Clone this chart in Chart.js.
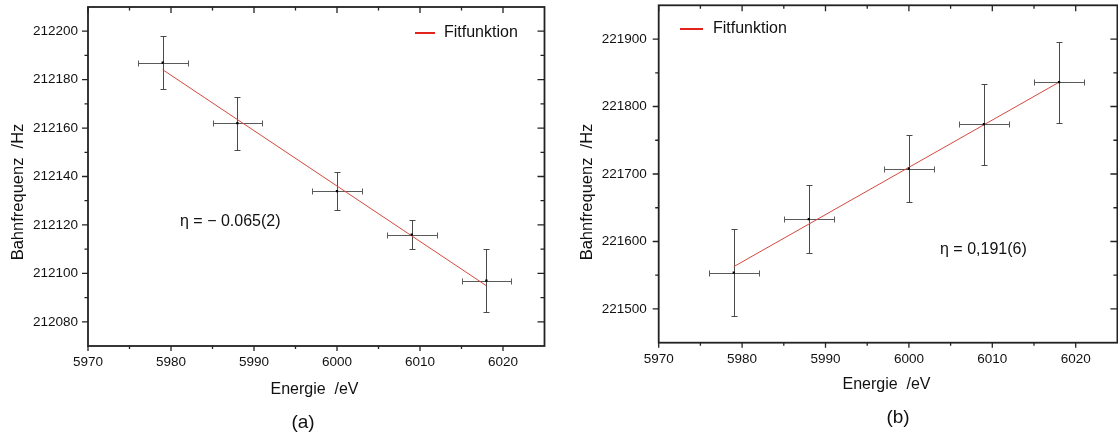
<!DOCTYPE html>
<html><head><meta charset="utf-8">
<script src="https://cdn.jsdelivr.net/npm/chart.js@4/dist/chart.umd.min.js"></script>
<style>
html,body{margin:0;padding:0;background:#fff;}
#wrap{position:relative;width:1118px;height:435px;overflow:hidden;background:#fff;}
.c{position:absolute;top:-30px;width:590px;height:465px;}
</style></head><body>
<div id="wrap">
<div class="c" style="left:0px"><canvas id="ca"></canvas></div>
<div class="c" style="left:560px"><canvas id="cb"></canvas></div>
</div>
<script>
// ---- data ----
const xTicks = [5970, 5980, 5990, 6000, 6010, 6020];
const xMinorTicks = [5975, 5985, 5995, 6005, 6015];

const energyA = [5979, 5988, 6000, 6009, 6018];
const freqA = [212187, 212162, 212134, 212116, 212097];
const freqErrA = [11, 11, 8, 6, 13];
const energyErrA = [3, 3, 3, 3, 3];
const fitEnergyA = [5979, 6018];
const fitFreqA = [212184.1, 212094.9];
const yTicksA = [212080, 212100, 212120, 212140, 212160, 212180, 212200];
const yMinorTicksA = [212090, 212110, 212130, 212150, 212170, 212190];

const energyB = [5979, 5988, 6000, 6009, 6018];
const freqB = [221554, 221633, 221708, 221774, 221836];
const freqErrB = [65, 50, 50, 60, 60];
const energyErrB = [3, 3, 3, 3, 3];
const fitEnergyB = [5979, 6018];
const fitFreqB = [221562.7, 221836];
const yTicksB = [221500, 221600, 221700, 221800, 221900];
const yMinorTicksB = [221550, 221650, 221750, 221850];

const FONT = "Arial, 'Liberation Sans', Helvetica, sans-serif";
const TXT = '#111';

function makeChart(id, o) {
  const ox = o.origin[0], oy = o.origin[1];
  const decor = {
    id: 'decor',
    beforeDatasetsDraw(chart) {
      const ctx = chart.ctx, xs = chart.scales.x, ys = chart.scales.y;
      ctx.save();
      ctx.lineWidth = 1;
      for (let i = 0; i < o.x.length; i++) {
        const px = Math.round(xs.getPixelForValue(o.x[i])) + 0.5;
        const py = Math.round(ys.getPixelForValue(o.y[i])) + 0.5;
        const y1 = Math.round(ys.getPixelForValue(o.y[i] + o.yErr[i])) + 0.5;
        const y2 = Math.round(ys.getPixelForValue(o.y[i] - o.yErr[i])) + 0.5;
        const x1 = Math.round(xs.getPixelForValue(o.x[i] - o.xErr[i])) + 0.5;
        const x2 = Math.round(xs.getPixelForValue(o.x[i] + o.xErr[i])) + 0.5;
        ctx.strokeStyle = '#4a4a4a';
        ctx.beginPath();
        ctx.moveTo(px, y1); ctx.lineTo(px, y2);
        ctx.moveTo(px - 3, y1); ctx.lineTo(px + 3, y1);
        ctx.moveTo(px - 3, y2); ctx.lineTo(px + 3, y2);
        ctx.stroke();
        ctx.strokeStyle = '#5a5a5a';
        ctx.beginPath();
        ctx.moveTo(x1, py); ctx.lineTo(x2, py);
        ctx.moveTo(x1, py - 3); ctx.lineTo(x1, py + 3);
        ctx.moveTo(x2, py - 3); ctx.lineTo(x2, py + 3);
        ctx.stroke();
      }
      ctx.restore();
    },
    afterDraw(chart) {
      const ctx = chart.ctx, xs = chart.scales.x, ys = chart.scales.y;
      const a = chart.chartArea;
      ctx.save();
      ctx.strokeStyle = '#222';
      ctx.lineWidth = 1.8;
      ctx.strokeRect(a.left, a.top, a.right - a.left, a.bottom - a.top);
      ctx.lineWidth = 1.3;
      ctx.beginPath();
      xTicks.forEach(v => {
        const p = xs.getPixelForValue(v);
        ctx.moveTo(p, a.bottom); ctx.lineTo(p, a.bottom + 5);
        ctx.moveTo(p, a.top); ctx.lineTo(p, a.top + 6);
      });
      xMinorTicks.forEach(v => {
        const p = xs.getPixelForValue(v);
        ctx.moveTo(p, a.bottom); ctx.lineTo(p, a.bottom + 3);
        ctx.moveTo(p, a.top); ctx.lineTo(p, a.top + 3.5);
      });
      o.yTicks.forEach(v => {
        const p = ys.getPixelForValue(v);
        ctx.moveTo(a.left - 6, p); ctx.lineTo(a.left, p);
        ctx.moveTo(a.right - 7, p); ctx.lineTo(a.right, p);
      });
      o.yMinor.forEach(v => {
        const p = ys.getPixelForValue(v);
        ctx.moveTo(a.left - 3.5, p); ctx.lineTo(a.left, p);
        ctx.moveTo(a.right - 4, p); ctx.lineTo(a.right, p);
      });
      ctx.stroke();

      // legend
      ctx.strokeStyle = '#e3231b';
      ctx.lineWidth = 2;
      ctx.beginPath();
      ctx.moveTo(o.leg[0] - ox, o.leg[2] - oy);
      ctx.lineTo(o.leg[1] - ox, o.leg[2] - oy);
      ctx.stroke();
      ctx.fillStyle = TXT;
      ctx.textBaseline = 'middle';
      ctx.textAlign = 'left';
      ctx.font = '16px ' + FONT;
      ctx.fillText('Fitfunktion', o.leg[3] - ox, o.leg[2] - oy);
      // annotation
      ctx.font = '16px ' + FONT;
      ctx.fillText(o.note, o.notePos[0] - ox, o.notePos[1] - oy);
      // x title
      ctx.textAlign = 'center';
      ctx.font = '16px ' + FONT;
      ctx.fillText('Energie  /eV', o.xTitle[0] - ox, o.xTitle[1] - oy);
      // panel
      ctx.font = '19px ' + FONT;
      ctx.fillText(o.panel, o.panelPos[0] - ox, o.panelPos[1] - oy);
      // y title
      ctx.save();
      ctx.translate(o.yTitle[0] - ox, o.yTitle[1] - oy);
      ctx.rotate(-Math.PI / 2);
      ctx.font = '16.5px ' + FONT;
      ctx.textAlign = 'center';
      ctx.fillText('Bahnfrequenz  /Hz', 0, 0);
      ctx.restore();
      ctx.restore();
    }
  };

  return new Chart(document.getElementById(id), {
    type: 'scatter',
    data: {
      datasets: [
        { type: 'line', label: 'Fitfunktion',
          data: o.fitX.map((x, i) => ({ x: x, y: o.fitY[i] })),
          borderColor: '#d4493f', borderWidth: 1, pointRadius: 0, fill: false, tension: 0, order: 2 },
        { type: 'scatter', label: 'Daten',
          data: o.x.map((x, i) => ({ x: x, y: o.y[i] })),
          pointStyle: 'rect', pointRadius: 1.6, backgroundColor: '#000', borderWidth: 0, order: 1 }
      ]
    },
    options: {
      responsive: true, maintainAspectRatio: false, animation: false, devicePixelRatio: 1,
      layout: { padding: o.pad },
      plugins: { legend: { display: false }, tooltip: { enabled: false } },
      scales: {
        x: {
          type: 'linear', min: 5970, max: 6025,
          afterBuildTicks: s => { s.ticks = xTicks.map(v => ({ value: v })); },
          afterFit: s => { s.height = o.xH; },
          grid: { display: false, drawTicks: false }, border: { display: false },
          ticks: { font: { family: FONT, size: 13.5 }, color: '#111', padding: 8.5,
                   maxRotation: 0, autoSkip: false, callback: v => String(v) }
        },
        y: {
          type: 'linear', min: o.yMin, max: o.yMax,
          afterBuildTicks: s => { s.ticks = o.yTicks.map(v => ({ value: v })); },
          afterFit: s => { s.width = o.yW; },
          grid: { display: false, drawTicks: false }, border: { display: false },
          ticks: { font: { family: FONT, size: 13.5 }, color: '#111', padding: o.yPad,
                   autoSkip: false, callback: v => String(v) }
        }
      }
    },
    plugins: [decor]
  });
}

makeChart('ca', {
  origin: [0, -30],
  x: energyA, y: freqA, xErr: energyErrA, yErr: freqErrA,
  fitX: fitEnergyA, fitY: fitFreqA,
  yTicks: yTicksA, yMinor: yMinorTicksA, yMin: 212070, yMax: 212210,
  pad: { left: 0, top: 37, right: 45.5, bottom: 0 }, xH: 89, yW: 88, yPad: 10,
  leg: [415, 435, 33, 444], note: 'η = − 0.065(2)', notePos: [180, 222],
  xTitle: [314.5, 390], panel: '(a)', panelPos: [303, 423], yTitle: [18, 192]
});
makeChart('cb', {
  origin: [560, -30],
  x: energyB, y: freqB, xErr: energyErrB, yErr: freqErrB,
  fitX: fitEnergyB, fitY: fitFreqB,
  yTicks: yTicksB, yMinor: yMinorTicksB, yMin: 221450, yMax: 221950,
  pad: { left: 0, top: 35.3, right: 32.6, bottom: 0 }, xH: 92.3, yW: 98.7, yPad: 12,
  leg: [680, 703, 29, 713], note: 'η = 0,191(6)', notePos: [940, 250],
  xTitle: [886.5, 385], panel: '(b)', panelPos: [898, 418], yTitle: [587, 192]
});
</script>
</body></html>
